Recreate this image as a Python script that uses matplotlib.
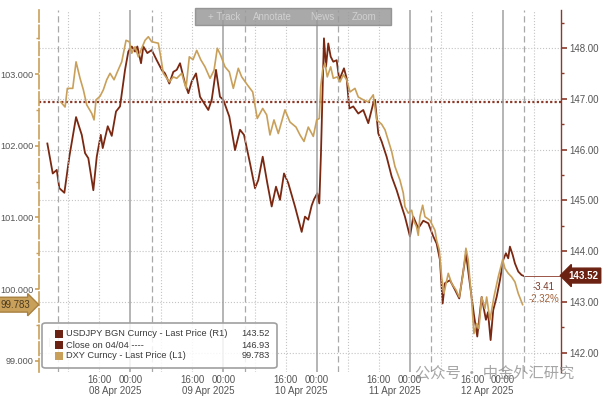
import numpy as np
import matplotlib
matplotlib.use("Agg")
import matplotlib.pyplot as plt
from matplotlib.patches import FancyBboxPatch, Rectangle
from matplotlib.transforms import blended_transform_factory

plt.rcParams['font.family'] = ['Liberation Sans', 'DejaVu Sans']

# hours since 07 Apr 2025 00:00
usdjpy_h = [2.65, 4.04, 5.07, 5.74, 7.03, 8.31, 10.04, 11.51, 12.36, 13.2, 14.49, 15.37, 16.4,
            16.91, 18.2, 19.23, 20.33, 21.36, 22.65, 23.5, 24.38, 25.23, 25.82, 26.77, 27.36,
            28.39, 29.52, 30.81, 32.1, 32.95, 34.05, 35.08, 35.96, 36.81, 38.1, 38.95, 39.82,
            40.93, 41.96, 44.09, 44.97, 46.07, 47.1, 47.95, 49.5, 50.97, 52.25, 53.28, 54.83,
            56.11, 56.96, 58.1, 59.28, 60.41, 61.52, 62.55, 63.58, 64.68, 66.41, 68.13, 68.98,
            69.83, 70.71, 71.3, 72.15, 72.67, 73.1, 73.54, 73.87, 74.39, 74.98, 75.6, 76.27,
            77.14, 77.81, 79.02, 79.72, 80.39, 81.42, 82.7, 83.99, 85.28, 86.56, 87.0, 87.85,
            88.72, 90.0, 91.3, 92.59, 93.88, 94.72, 96.01, 96.87, 98.15, 99.44, 100.73, 102.02,
            102.88, 103.73, 104.42, 105.02, 106.31, 107.6, 108.7, 109.73, 110.43, 111.2, 112.48,
            113.34, 114.47, 115.57, 116.1, 116.78, 117.45, 118.33, 119.18, 120.03, 120.72,
            121.31, 121.75, 122.45, 123.04, 123.89, 124.76, 125.1]
usdjpy = [146.12, 145.53, 145.60, 145.24, 145.15, 145.86, 146.64, 146.29, 145.93, 145.83, 145.20,
          145.86, 146.29, 146.03, 146.46, 146.27, 146.75, 146.85, 147.57, 147.93, 148.03, 147.93,
          148.03, 147.70, 148.03, 147.90, 147.96, 147.76, 147.57, 147.50, 147.30, 147.53, 147.57,
          147.70, 147.30, 147.11, 147.34, 147.50, 147.04, 146.78, 146.98, 147.57, 147.04, 146.98,
          146.65, 145.99, 146.39, 146.29, 145.73, 145.24, 145.40, 145.86, 145.34, 144.88, 145.27,
          145.01, 145.53, 145.34, 144.88, 144.38, 144.68, 144.62, 144.90, 145.02, 145.14, 144.94,
          145.93, 147.24, 148.19, 147.63, 148.09, 147.83, 147.73, 147.76, 147.37, 147.60, 147.40,
          146.81, 146.85, 146.71, 146.78, 146.52, 146.91, 146.98, 146.32, 146.16, 145.86, 145.47,
          145.20, 144.88, 144.68, 144.29, 144.68, 144.45, 144.60, 144.55, 144.29, 144.15, 143.83,
          142.97, 143.37, 143.43, 143.24, 143.07, 143.60, 143.95, 143.50, 142.75, 142.32, 143.10,
          142.65, 142.80, 142.25, 142.84, 143.10, 143.43, 143.83, 143.96, 143.86, 144.09, 143.93,
          143.76, 143.60, 143.53, 143.52]

dxy_h = [6.1, 7.21, 7.8, 9.19, 10.04, 11.07, 11.92, 12.79, 14.08, 14.67, 15.19, 16.22, 17.07,
         17.94, 18.79, 19.82, 20.67, 21.8, 22.91, 23.76, 24.38, 25.23, 26.07, 26.95, 27.8, 28.65,
         29.52, 31.22, 31.84, 32.51, 34.05, 35.08, 35.96, 37.25, 38.35, 39.2, 40.15, 41.11,
         42.14, 43.24, 44.53, 45.56, 46.41, 47.28, 48.39, 49.5, 50.53, 51.81, 52.69, 54.13,
         55.52, 56.7, 58.1, 59.12, 59.97, 61.0, 62.11, 63.83, 65.12, 66.67, 67.7, 68.73, 69.83,
         71.12, 72.0, 72.67, 73.03, 73.54, 74.13, 74.72, 75.6, 76.27, 77.3, 77.99, 78.84, 79.72,
         80.57, 81.85, 82.7, 83.99, 85.28, 86.56, 87.44, 88.72, 89.6, 91.3, 92.15, 93.44, 94.29,
         94.72, 95.57, 96.45, 97.0, 97.7, 98.15, 98.58, 99.28, 99.87, 101.16, 102.45, 102.88,
         103.55, 104.17, 104.76, 105.87, 106.74, 107.85, 108.7, 109.57, 110.42, 111.0, 111.89,
         112.48, 113.17, 113.77, 114.47, 115.32, 115.76, 116.6, 117.63, 118.74, 119.87, 120.46,
         121.31, 122.19, 123.04, 123.89, 125.02]
dxy = [102.61, 102.54, 102.80, 102.80, 103.17, 102.94, 102.78, 102.57, 102.45, 102.36, 102.64,
       102.69, 102.78, 102.92, 103.01, 102.92, 103.03, 103.17, 103.47, 103.45, 103.29, 103.38,
       103.24, 103.36, 103.47, 103.52, 103.45, 103.43, 103.24, 103.01, 102.89, 102.96, 102.94,
       103.01, 102.80, 103.24, 103.20, 103.33, 103.20, 103.10, 102.94, 103.05, 103.36, 103.26,
       103.10, 103.03, 102.80, 103.08, 102.96, 102.85, 102.75, 102.38, 102.52, 102.43, 102.15,
       102.36, 102.17, 102.50, 102.33, 102.26, 102.15, 102.06, 102.26, 102.13, 102.36, 102.38,
       102.82, 103.06, 103.15, 102.96, 103.10, 102.94, 102.96, 102.89, 102.99, 102.92, 102.75,
       102.80, 102.68, 102.64, 102.61, 102.71, 102.36, 102.30, 102.22, 101.92, 101.71, 101.52,
       101.34, 101.15, 101.06, 101.10, 100.95, 100.87, 100.75, 101.01, 101.17, 101.01, 100.96,
       100.82, 100.68, 100.55, 100.17, 99.94, 100.22, 100.08, 99.99, 99.89, 100.17, 100.57,
       100.41, 99.85, 99.38, 99.52, 99.45, 99.89, 99.73, 99.89, 99.57, 99.89, 100.17, 100.41,
       100.29, 100.22, 100.17, 100.10, 99.94, 99.783]

close_0404 = 146.93
last_usdjpy = 143.52
last_dxy = 99.783
chg_abs = "-3.41"
chg_pct = "-2.32%"

day_starts = [0, 24, 48, 72, 96, 120]
date_labels = ["08 Apr 2025", "09 Apr 2025", "10 Apr 2025", "11 Apr 2025", "12 Apr 2025"]

c_jpy = '#7a2812'
c_dxy = '#c9a05a'
c_jpy_axis = '#8b3a2a'
c_txt = '#555555'

fig = plt.figure(figsize=(6.02, 3.98), dpi=100)
ax = fig.add_axes([39/602, 1-372/398, (561-39)/602, 362/398])
ax2 = ax.twinx()

ax.set_xlim(0.5, 134.9)
ax.set_ylim(98.844, 103.893)
ax2.set_ylim(141.622, 148.748)

# vertical guide lines
for d in day_starts:
    ax.axvline(d, color='#a0a0a0', lw=1.1, zorder=0)
    ax.axvline(d + 5.5, color='#a8a8a8', lw=0.9, ls=(0, (5, 3)), zorder=0)
    ax.axvline(d + 8, color='#c4c4c4', lw=0.8, ls=':', zorder=0)
    ax.axvline(d + 16, color='#c4c4c4', lw=0.8, ls=':', zorder=0)

# horizontal grid from right axis
for v in range(142, 149):
    ax2.axhline(v, color='#c4c4c4', lw=0.8, ls=':', zorder=0)

ax2.axhline(close_0404, color=c_jpy_axis, lw=1.6, ls=(0, (1, 1)), zorder=1)

ax.plot(dxy_h, dxy, color=c_dxy, lw=1.2, zorder=3)
ax2.plot(usdjpy_h, usdjpy, color=c_jpy, lw=1.3, zorder=3)
ax2.plot([usdjpy_h[-1], 134.9], [last_usdjpy, last_usdjpy], color=c_jpy_axis, lw=0.6)

ax.set_zorder(ax2.get_zorder() + 1)
ax.patch.set_visible(False)

# spines
for a in (ax, ax2):
    a.spines['top'].set_visible(False)
    a.spines['bottom'].set_visible(False)
ax.spines['right'].set_visible(False)
ax2.spines['left'].set_visible(False)
ax.spines['left'].set_color(c_dxy)
ax.spines['left'].set_linewidth(1.2)
ax.spines['left'].set_linestyle((0, (8, 2)))
ax2.spines['right'].set_color(c_jpy_axis)
ax2.spines['right'].set_linewidth(1.0)

ax.set_yticks([99, 100, 101, 102, 103])
ax.set_yticklabels(["99.000", "100.000", "101.000", "102.000", "103.000"])
ax.set_yticks(np.arange(99.5, 104, 1.0), minor=True)
ax.tick_params(axis='y', which='major', colors=c_dxy, labelcolor=c_txt, labelsize=6.6,
               length=3, width=1.2, pad=1)
ax.tick_params(axis='y', which='minor', colors=c_dxy, length=2, width=1)

ax2.set_yticks(range(142, 149))
ax2.set_yticklabels([f"{v:.2f}" for v in range(142, 149)])
ax2.set_yticks(np.arange(142.5, 149, 1.0), minor=True)
ax2.tick_params(axis='y', which='major', colors=c_jpy_axis, labelcolor=c_txt, labelsize=7,
                length=4, width=1.2, pad=2)
ax2.tick_params(axis='y', which='minor', colors=c_jpy_axis, length=2, width=1)

major_x = []
major_lab = []
for d in day_starts[:5]:
    major_x += [d + 16, d + 24]
    major_lab += ["16:00", "00:00"]
ax.set_xticks(major_x)
ax.set_xticklabels(major_lab)
ax.tick_params(axis='x', which='both', length=0, labelsize=7, labelcolor=c_txt, pad=2)
trx = blended_transform_factory(ax.transData, fig.transFigure)
for d, s in zip(day_starts[:5], date_labels):
    ax.text(d + 20, 1 - 391/398, s, transform=trx, fontsize=7, color=c_txt,
            ha='center', va='center', clip_on=False)

# value tags
tr2 = blended_transform_factory(ax2.transAxes, ax2.transData)
ax2.text(1.014, last_usdjpy, f"{last_usdjpy:.2f}", transform=tr2, ha='left', va='center',
         fontsize=7, color='white', fontweight='bold',
         bbox=dict(boxstyle='larrow,pad=0.25', fc='#6b2212', ec='#6b2212'))
tr1 = blended_transform_factory(ax.transAxes, ax.transData)
ax.text(-0.016, last_dxy, f"{last_dxy:.3f}", transform=tr1, ha='right', va='center',
        fontsize=7, color='#4a3a20',
        bbox=dict(boxstyle='rarrow,pad=0.25', fc=c_dxy, ec='#a88040'))

ax2.text(127.5, last_usdjpy - 0.22, chg_abs, fontsize=7, color='#7a3a2a', ha='left', va='center')
ax2.text(126.5, last_usdjpy - 0.46, chg_pct, fontsize=7, color='#a0603a', ha='left', va='center')

# legend box
lg = FancyBboxPatch((42/602, 1-368/398), 235/602, 45/398, transform=fig.transFigure,
                    boxstyle='round,pad=0,rounding_size=0.006', fc=(1, 1, 1, 0.85),
                    ec='#a0a0a0', lw=1.2, zorder=10)
fig.patches.append(lg)
rows = [("USDJPY BGN Curncy - Last Price (R1)", f"{last_usdjpy:.2f}", '#6b2212'),
        ("Close on 04/04 ----", f"{close_0404:.2f}", '#6b2212'),
        ("DXY Curncy - Last Price (L1)", f"{last_dxy:.3f}", c_dxy)]
for i, (lab, val, col) in enumerate(rows):
    yp = 1 - (334 + i * 11) / 398
    fig.patches.append(Rectangle((55/602, yp - 4/398), 8/602, 8/398, transform=fig.transFigure,
                                 fc=col, ec='none', zorder=11))
    fig.text(66/602, yp, lab, fontsize=6.7, color='#3a3a3a', va='center', ha='left', zorder=12)
    fig.text(270/602, yp, val, fontsize=6.7, color='#3a3a3a', va='center', ha='right', zorder=12)
fig.add_artist(plt.Line2D([49/602, 49/602], [1-338/398, 1-346/398], color='#b0b0b0', lw=0.8))

# toolbar
tb = Rectangle((195/602, 1-25/398), 196/602, 17/398, transform=fig.transFigure,
               fc='#9a9a9a', ec='#8a8a8a', alpha=0.85, zorder=10)
fig.patches.append(tb)
for xp, t in [(208, "+ Track"), (253, "Annotate"), (310, "News"), (352, "Zoom")]:
    fig.text(xp/602, 1-16.5/398, t, fontsize=7, color='#d0d0d0', va='center', ha='left', zorder=11)

# watermark
fig.text(415/602, 1-373/398, "公众号 · 中金外汇研究", fontsize=11, color='#909090', alpha=0.8,
         family=['Noto Sans CJK SC', 'DejaVu Sans'], va='center', ha='left', zorder=20)

fig.savefig("out.png", dpi=100)
